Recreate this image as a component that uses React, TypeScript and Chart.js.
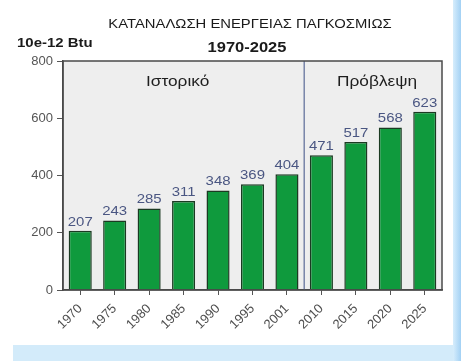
import React, { useEffect, useRef } from "react";
import { Chart, registerables } from "chart.js";

Chart.register(...registerables);

const years = ["1970", "1975", "1980", "1985", "1990", "1995", "2001", "2010", "2015", "2020", "2025"];
const consumption = [207, 243, 285, 311, 348, 369, 404, 471, 517, 568, 623];
const yTicks = [0, 200, 400, 600, 800];
const titleLine1 = "ΚΑΤΑΝΑΛΩΣΗ ΕΝΕΡΓΕΙΑΣ ΠΑΓΚΟΣΜΙΩΣ";
const titleLine2 = "1970-2025";
const unitLabel = "10e-12 Btu";
const historyLabel = "Ιστορικό";
const forecastLabel = "Πρόβλεψη";
const historyCount = 7;

const FONT = "'Liberation Sans', Arial, sans-serif";

function sText(
  ctx: CanvasRenderingContext2D,
  text: string,
  x: number,
  y: number,
  font: string,
  color: string,
  sx = 1.14,
  align: CanvasTextAlign = "center"
) {
  ctx.save();
  ctx.font = font;
  ctx.fillStyle = color;
  ctx.textAlign = align;
  ctx.textBaseline = "alphabetic";
  ctx.translate(x, y);
  ctx.scale(sx, 1);
  ctx.fillText(text, 0, 0);
  ctx.restore();
}

const decorPlugin = {
  id: "decor",
  beforeDraw(chart: any) {
    const { ctx, width, height, chartArea } = chart;
    ctx.save();
    ctx.fillStyle = "#ffffff";
    ctx.fillRect(0, 0, width, height);
    // bottom band
    ctx.fillStyle = "#d3ebfa";
    ctx.fillRect(13, 345, 441, height - 345);
    // right band gradient
    const g = ctx.createLinearGradient(453, 0, width, 0);
    g.addColorStop(0, "#d6edfc");
    g.addColorStop(1, "#a3d1f4");
    ctx.fillStyle = g;
    ctx.fillRect(453, 0, width - 453, height);
    // plot background
    ctx.fillStyle = "#eeeeee";
    ctx.fillRect(chartArea.left, chartArea.top, chartArea.right - chartArea.left, chartArea.bottom - chartArea.top);
    ctx.restore();
  },
  afterDatasetsDraw(chart: any) {
    const { ctx, chartArea } = chart;
    const xs = chart.scales.x;
    ctx.save();
    // divider between history and forecast
    const xDiv = (xs.getPixelForValue(historyCount - 1) + xs.getPixelForValue(historyCount)) / 2;
    ctx.strokeStyle = "#5b6b98";
    ctx.lineWidth = 1.2;
    ctx.beginPath();
    ctx.moveTo(xDiv, chartArea.top);
    ctx.lineTo(xDiv, chartArea.bottom);
    ctx.stroke();
    // box border
    ctx.strokeStyle = "#4a4a4a";
    ctx.lineWidth = 1.5;
    ctx.strokeRect(chartArea.left, chartArea.top, chartArea.right - chartArea.left, chartArea.bottom - chartArea.top);
    ctx.restore();

    // value labels
    const meta = chart.getDatasetMeta(0);
    meta.data.forEach((bar: any, i: number) => {
      sText(ctx, String(consumption[i]), bar.x, bar.y - 5, `13px ${FONT}`, "#4a5682", 1.15);
    });

    // section labels
    const histCenter = (chartArea.left + xDiv) / 2;
    const foreCenter = (xDiv + chartArea.right) / 2;
    sText(ctx, historyLabel, histCenter - 6, 86, `15px ${FONT}`, "#1e1e1e", 1.15);
    sText(ctx, forecastLabel, foreCenter + 4, 86, `15px ${FONT}`, "#1e1e1e", 1.15);

    // titles
    sText(ctx, titleLine1, 250, 28, `13px ${FONT}`, "#1a1a1a", 1.14);
    sText(ctx, titleLine2, 247, 52, `bold 15px ${FONT}`, "#1a1a1a", 1.1);
    sText(ctx, unitLabel, 17, 47, `bold 13px ${FONT}`, "#1a1a1a", 1.15, "left");
  },
};

export default function App() {
  const canvasRef = useRef<HTMLCanvasElement | null>(null);

  useEffect(() => {
    if (!canvasRef.current) return;
    const chart = new Chart(canvasRef.current, {
      type: "bar",
      data: {
        labels: years,
        datasets: [
          {
            data: consumption,
            backgroundColor: "#0f9a3d",
            borderColor: "#1b3a22",
            borderWidth: 1.5,
            barPercentage: 0.67,
            categoryPercentage: 1,
          },
        ],
      },
      options: {
        animation: false,
        responsive: false,
        maintainAspectRatio: false,
        devicePixelRatio: 1,
        layout: { padding: { left: 0, top: 61, right: 19, bottom: 0 } },
        plugins: {
          legend: { display: false },
          tooltip: { enabled: false },
          title: { display: false },
        },
        scales: {
          x: {
            offset: true,
            grid: { drawOnChartArea: false, drawTicks: true, tickLength: 5, color: "#555555", offset: false },
            border: { display: true, color: "#4a4a4a", width: 1.5 },
            ticks: {
              minRotation: 45,
              maxRotation: 45,
              autoSkip: false,
              padding: 6,
              color: "#4f4f4f",
              font: { family: FONT, size: 13 },
            },
            afterFit: (s: any) => {
              s.height = 71;
            },
          },
          y: {
            min: 0,
            max: 800,
            afterBuildTicks: (s: any) => {
              s.ticks = yTicks.map((v) => ({ value: v }));
            },
            grid: { drawOnChartArea: false, drawTicks: true, tickLength: 6, color: "#555555" },
            border: { display: true, color: "#4a4a4a", width: 1.5 },
            ticks: {
              padding: 4,
              color: "#555555",
              font: { family: FONT, size: 13 },
            },
            afterFit: (s: any) => {
              s.width = 63;
            },
          },
        },
      },
      plugins: [decorPlugin],
    });
    return () => chart.destroy();
  }, []);

  return (
    <div style={{ position: "fixed", left: 0, top: 0, width: 461, height: 361, background: "#ffffff" }}>
      <canvas ref={canvasRef} width={461} height={361} style={{ display: "block", width: 461, height: 361 }} />
    </div>
  );
}
